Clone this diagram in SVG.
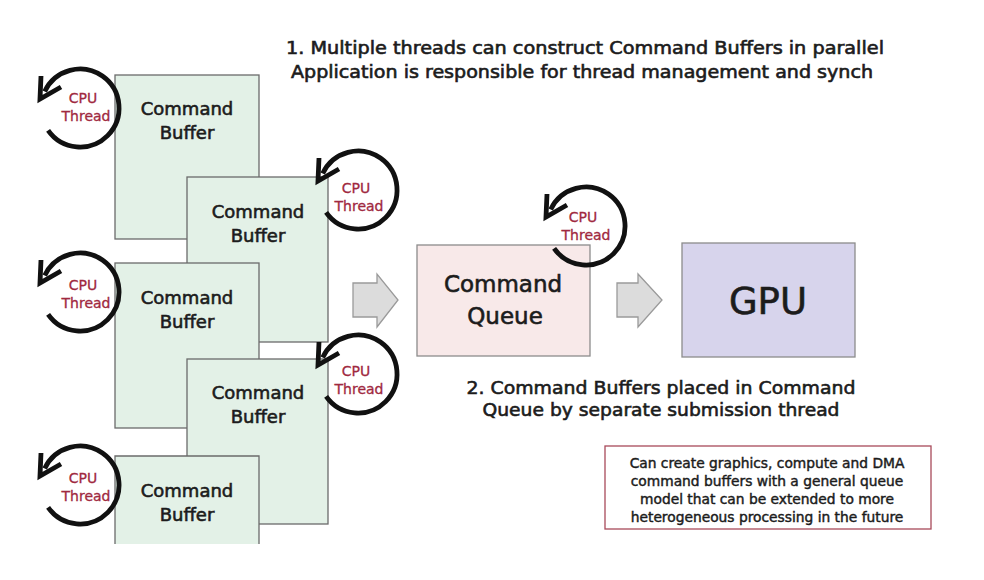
<svg xmlns="http://www.w3.org/2000/svg" xmlns:xlink="http://www.w3.org/1999/xlink" width="984" height="580" viewBox="0 0 984 580">
<style>
.buf{fill:#e3f1e7;stroke:#6b6b6b;stroke-width:1.3}
.txt{font-family:"DejaVu Sans",Verdana,sans-serif;fill:#1c1c1c;stroke:#1c1c1c;stroke-width:0.6;text-anchor:middle}
.cb{font-size:18px}
.cpu{font-family:"DejaVu Sans",Verdana,sans-serif;font-size:14px;fill:#a0293f;stroke:#a0293f;stroke-width:0.3;text-anchor:middle}
.loop{fill:none;stroke:#111;stroke-width:4.8}
.blk{fill:#dcdcdc;stroke:#9a9a9a;stroke-width:1.3}
.note{font-size:13.8px;stroke-width:0.45}
</style>
<defs>
<g id="loop">
<path class="loop" d="M -31.9 22.4 A 39 39 0 1 0 -35.3 -16.5"/>
<path class="loop" d="M -19 -21 L -40 -9 L -39 -32" stroke-linejoin="miter"/>
</g>
</defs>

<rect width="984" height="580" fill="#ffffff"/>

<g id="title">
<text class="txt" x="585" y="54" font-size="17" textLength="598" lengthAdjust="spacingAndGlyphs">1. Multiple threads can construct Command Buffers in parallel</text>
<text class="txt" x="582" y="78" font-size="17" textLength="582" lengthAdjust="spacingAndGlyphs">Application is responsible for thread management and synch</text>
</g>

<g id="buffer1">
<rect class="buf" x="115" y="75" width="144" height="164"/>
<text class="txt cb" x="187" y="115">Command</text>
<text class="txt cb" x="187" y="139">Buffer</text>
</g>
<g id="buffer2">
<rect class="buf" x="187" y="177" width="141" height="165"/>
<text class="txt cb" x="258" y="218">Command</text>
<text class="txt cb" x="258" y="242">Buffer</text>
</g>
<g id="buffer3">
<rect class="buf" x="115" y="263" width="144" height="165"/>
<text class="txt cb" x="187" y="304">Command</text>
<text class="txt cb" x="187" y="328">Buffer</text>
</g>
<g id="buffer4">
<rect class="buf" x="187" y="359" width="141" height="165"/>
<text class="txt cb" x="258" y="399">Command</text>
<text class="txt cb" x="258" y="423">Buffer</text>
</g>
<g id="buffer5">
<rect x="115" y="456" width="144" height="88" fill="#e3f1e7"/>
<path d="M115 544 V456 H259 V544" fill="none" stroke="#6b6b6b" stroke-width="1.3"/>
<text class="txt cb" x="187" y="497">Command</text>
<text class="txt cb" x="187" y="521">Buffer</text>
</g>

<g id="thread1">
<use xlink:href="#loop" x="80" y="108"/>
<text class="cpu" x="83" y="103">CPU</text>
<text class="cpu" x="86" y="121">Thread</text>
</g>
<g id="thread2">
<use xlink:href="#loop" x="358" y="190"/>
<text class="cpu" x="356" y="193">CPU</text>
<text class="cpu" x="359" y="211">Thread</text>
</g>
<g id="thread3">
<use xlink:href="#loop" x="80" y="292"/>
<text class="cpu" x="83" y="290">CPU</text>
<text class="cpu" x="86" y="308">Thread</text>
</g>
<g id="thread4">
<use xlink:href="#loop" x="358" y="374"/>
<text class="cpu" x="356" y="376">CPU</text>
<text class="cpu" x="359" y="394">Thread</text>
</g>
<g id="thread5">
<use xlink:href="#loop" x="80" y="485"/>
<text class="cpu" x="83" y="483">CPU</text>
<text class="cpu" x="86" y="501">Thread</text>
</g>

<g id="queue">
<rect x="417" y="245" width="173" height="111" fill="#f8e9e9" stroke="#8c8c8c" stroke-width="1.3"/>
<text class="txt" x="503" y="292" font-size="23">Command</text>
<text class="txt" x="505" y="324" font-size="23">Queue</text>
</g>
<g id="thread6">
<use xlink:href="#loop" x="586" y="226"/>
<text class="cpu" x="583" y="222">CPU</text>
<text class="cpu" x="586" y="240">Thread</text>
</g>

<g id="gpu">
<rect x="682" y="243" width="173" height="114" fill="#d7d4ec" stroke="#8c8c8c" stroke-width="1.3"/>
<text class="txt" x="768" y="314" font-size="37" stroke-width="1.2">GPU</text>
</g>

<g id="connectors">
<polygon class="blk" points="353,283 377,283 377,274 398,300 377,327 377,317 353,317"/>
<polygon class="blk" points="617,283 638,283 638,274 662,300 638,327 638,317 617,317"/>
</g>

<g id="caption2">
<text class="txt" x="661" y="394" font-size="18" textLength="389" lengthAdjust="spacingAndGlyphs">2. Command Buffers placed in Command</text>
<text class="txt" x="661" y="416" font-size="18" textLength="357" lengthAdjust="spacingAndGlyphs">Queue by separate submission thread</text>
</g>

<g id="note">
<rect x="605" y="446" width="326" height="83" fill="#ffffff" stroke="#a84a5a" stroke-width="1.3"/>
<text class="txt note" x="767" y="468">Can create graphics, compute and DMA</text>
<text class="txt note" x="767" y="486">command buffers with a general queue</text>
<text class="txt note" x="767" y="504">model that can be extended to more</text>
<text class="txt note" x="767" y="522">heterogeneous processing in the future</text>
</g>
</svg>
